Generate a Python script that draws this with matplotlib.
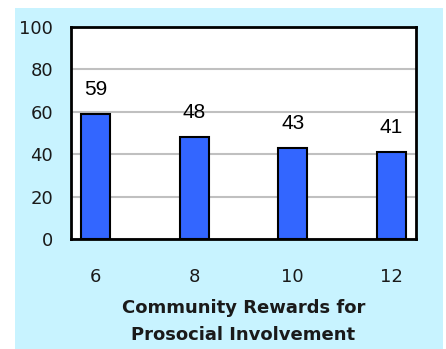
import matplotlib
matplotlib.use("Agg")
import matplotlib.pyplot as plt
from matplotlib.patches import Rectangle

categories = ["6", "8", "10", "12"]
values = [59, 48, 43, 41]
yticks = [0, 20, 40, 60, 80, 100]

W, H = 446, 349
fig = plt.figure(figsize=(W / 100, H / 100), dpi=100)
fig.patch.set_facecolor("white")

# light blue panel behind the chart
fig.add_artist(Rectangle((15 / W, 0), (443 - 15) / W, (H - 8) / H,
                         transform=fig.transFigure, facecolor="#C8F3FF",
                         edgecolor="none", zorder=0))

ax = fig.add_axes([71 / W, (H - 239) / H, (416 - 71) / W, (239 - 27) / H])
ax.set_facecolor("white")

x = range(len(categories))
ax.bar(x, values, width=0.29, color="#3366FF", edgecolor="black",
       linewidth=1.5, zorder=3)
for xi, v in zip(x, values):
    ax.text(xi, v + 11.5, str(v), ha="center", va="center", fontsize=15,
            family="Liberation Sans", zorder=4)

ax.set_xlim(-0.25, 3.25)
ax.set_ylim(0, 100)
ax.set_yticks(yticks)
ax.set_xticks(list(x))
ax.set_xticklabels(categories)
ax.tick_params(length=0, labelsize=13)
ax.tick_params(axis="y", pad=13)
ax.tick_params(axis="x", pad=21)
for lab in ax.get_xticklabels() + ax.get_yticklabels():
    lab.set_family("DejaVu Sans")
    lab.set_color("#1a1a1a")

ax.yaxis.grid(True, color="#C0C0C0", linewidth=1.5, zorder=0)
ax.set_axisbelow(True)
for s in ax.spines.values():
    s.set_linewidth(2)
    s.set_color("black")

ax.set_xlabel("Community Rewards for\nProsocial Involvement", fontsize=13,
              fontweight="bold", family="DejaVu Sans", labelpad=9,
              linespacing=1.65, color="#1a1a1a")

fig.savefig("out.png", dpi=100)
